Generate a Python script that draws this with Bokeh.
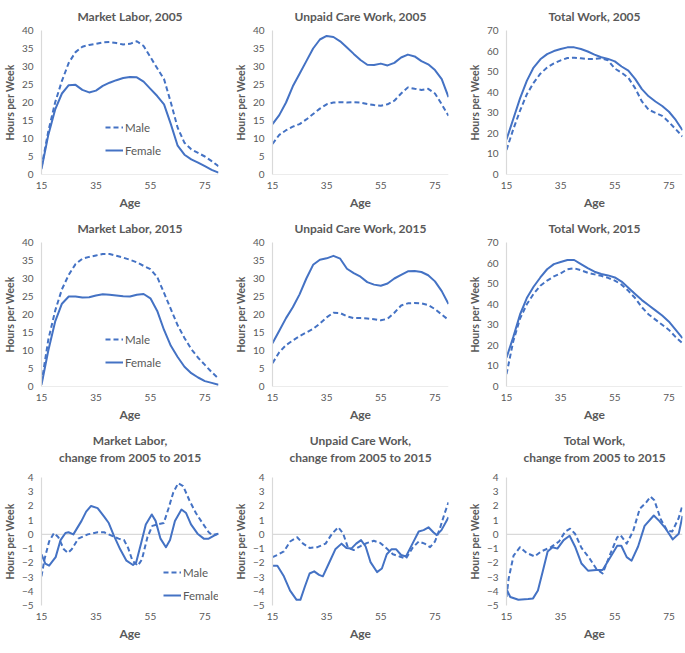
from bokeh.plotting import figure
from bokeh.layouts import column, row
from bokeh.models import Range1d, FixedTicker, Span, Legend, LegendItem, Title
from bokeh.embed import file_html
from bokeh.resources import INLINE

# ---------------- data ----------------
AGES = [15, 17.5, 20, 22.5, 25, 27.5, 30, 32.5, 35, 37.5, 40, 42.5, 45, 47.5,
        50, 52.5, 55, 57.5, 60, 62.5, 65, 67.5, 70, 72.5, 75, 77.5, 80]
X_TICKS = [15, 35, 55, 75]

ml05_male = [2, 12, 20, 26, 31, 34, 35.5, 36, 36.3, 36.7, 36.8, 36.5, 36.1, 36.3,
             37, 35.7, 32.6, 29.5, 26.5, 20, 13, 8.8, 7, 6, 5, 3.7, 2.3]
ml05_female = [1.5, 11, 18, 22.5, 24.8, 24.9, 23.5, 22.8, 23.3, 24.6, 25.5, 26.2, 26.8, 27.1,
               27.0, 25.8, 23.8, 21.8, 19.5, 14, 8, 5.5, 4.2, 3.3, 2.3, 1.3, 0.5]

uc05_male = [8.5, 11, 12.3, 13.3, 14, 15.3, 16.8, 18.3, 19.5, 20, 20.1, 20, 20.1, 20,
             19.6, 19.3, 19.1, 19.5, 20.5, 22.5, 24.2, 23.8, 23.5, 23.8, 22.5, 19.5, 16.3]
uc05_female = [14, 16.5, 20, 24.5, 28, 31.5, 35, 37.5, 38.5, 38.2, 37, 35.3, 33.5, 31.8,
               30.5, 30.4, 30.8, 30.3, 31, 32.5, 33.3, 32.8, 31.5, 30.6, 29, 26.5, 21.5]

tw05_male = [12, 22, 31, 39, 44.5, 49, 52, 54, 55.5, 56.6, 56.8, 56.5, 56.2, 56.2,
             56.5, 55.5, 51.5, 49.5, 47, 42, 35.5, 31.5, 30, 28.5, 25.5, 22, 18.5]
tw05_female = [17, 27, 37, 45.5, 52, 56, 58.5, 60, 61, 61.8, 61.8, 61, 59.8, 58.3,
               57, 56.2, 55, 52.5, 50.5, 46.5, 41.5, 38, 35.5, 33.3, 30.5, 26.5, 21.5]

ml15_male = [1, 13, 21, 27, 31, 34, 35.5, 36, 36.4, 36.8, 36.8, 36.3, 35.8, 35.2,
             34.5, 33.5, 32.6, 30.4, 26, 21.5, 17, 13.5, 10.4, 8, 6, 4, 2.2]
ml15_female = [0.5, 10, 18, 23, 25, 25, 24.7, 24.8, 25.3, 25.6, 25.5, 25.3, 25.1, 25,
               25.5, 25.7, 24.5, 21, 15.7, 11.3, 8.2, 5.5, 3.7, 2.5, 1.5, 1, 0.5]

uc15_male = [6.5, 9.5, 11.5, 12.8, 14, 15, 16, 17.5, 19.2, 20.5, 20.4, 19.5, 19, 19,
             18.9, 18.7, 18.4, 18.8, 20.5, 22.5, 23.1, 23.2, 23.1, 22.6, 21.5, 20, 18.5]
uc15_female = [12, 15.5, 19, 22, 25.6, 30, 33.8, 35.2, 35.6, 36.3, 35.5, 32.7, 31.5, 30.5,
               29, 28.3, 28, 28.6, 30, 31, 32, 32.1, 31.8, 30.9, 29.2, 26.5, 22.9]

tw15_male = [6, 22, 33, 40, 45, 49, 51.5, 53.5, 55, 57, 57.5, 56.5, 55.3, 54.5,
             53.8, 52.8, 51.5, 49.5, 46.5, 43, 38.5, 35, 32.5, 30, 27.5, 24, 21]
tw15_female = [14, 24, 35, 43, 48.5, 53, 57, 59.5, 60.5, 61.5, 61.5, 59.5, 57.5, 55.8,
               54.7, 54, 53, 51, 48, 45, 42, 39.5, 37, 34.5, 31.5, 27.5, 23.5]

# change from 2005 to 2015
mlc_male_age = [15, 16.1, 17.8, 19.6, 21.2, 23.2, 24.7, 26.1, 28.5, 32, 35.6, 38, 40.9,
                43.3, 45.3, 46.8, 48.4, 50.4, 51.9, 53.9, 55.7, 57.5, 59.9, 61.6, 63.4,
                65.2, 67, 69.3, 71.7, 74.1, 76.4, 77.6, 80]
mlc_male = [-2.95, -1.75, -0.5, 0.1, -0.2, -1.05, -1.3, -1.05, -0.3, 0, 0.15, 0.15, -0.1,
            -0.3, -0.4, -0.95, -1.85, -2.2, -1.75, -0.2, 0.6, 0.7, 0.8, 1.8, 2.95,
            3.6, 3.4, 2.4, 1.5, 0.8, 0.15, -0.05, 0.05]
mlc_female_age = [15, 16.4, 17.8, 20.2, 22, 23.8, 24.9, 26.7, 29.7, 31.4, 33.2, 35.6, 38,
                  39.7, 41.5, 43.9, 46.2, 48.6, 49.8, 51.6, 53.3, 55.5, 56.9, 58.7, 60.7,
                  62.2, 64, 66.4, 68.1, 69.9, 72.3, 74.6, 76.4, 78.2, 80]
mlc_female = [-1.4, -2.05, -2.2, -1.6, -0.4, 0.1, 0.15, 0, 0.95, 1.6, 2.0, 1.85, 1.25,
              0.8, -0.05, -1.05, -1.85, -2.15, -1.95, -0.6, 0.7, 1.4, 0.95, -0.3, -0.9,
              -0.4, 0.95, 1.75, 1.5, 0.7, 0.05, -0.3, -0.3, -0.1, 0.05]

ucc_male_age = [15, 16.8, 19.2, 21.5, 24.1, 26.3, 28.7, 31.6, 34.6, 37, 39.3, 41.1, 42.9,
                45, 47.7, 50, 52.4, 54.8, 57.2, 59.5, 61.9, 64.3, 66.7, 69, 71.2, 73.2,
                75, 76.8, 78.6, 80]
ucc_male = [-1.6, -1.45, -1.2, -0.5, -0.2, -0.65, -0.95, -0.9, -0.65, 0.05, 0.5, 0.05, -0.95,
            -1.1, -0.8, -0.6, -0.45, -0.6, -1.0, -1.4, -1.55, -1.7, -0.95, -0.5, -0.65, -0.9,
            -0.5, 0.4, 1.5, 2.25]
ucc_female_age = [15, 16.8, 19.2, 21.5, 23.9, 25.3, 26.9, 28.7, 30.4, 32.2, 33.6, 35.8, 38.2,
                  40.5, 42.3, 44.1, 45.9, 47.7, 49.4, 51.2, 53.6, 55.4, 57.2, 58.9, 60.7,
                  62.5, 64.3, 66.7, 69, 70.8, 72.6, 74.4, 75.6, 77.4, 80]
ucc_female = [-2.2, -2.2, -2.95, -3.95, -4.6, -4.6, -3.7, -2.75, -2.6, -2.85, -2.95, -2.05, -1.05,
              -0.65, -0.95, -1.0, -0.65, -0.4, -0.85, -1.95, -2.65, -2.4, -1.4, -1.05, -1.05,
              -1.45, -1.55, -0.65, 0.2, 0.3, 0.5, 0.15, -0.05, 0.3, 1.2]

twc_male_age = [15, 15.8, 17.6, 20, 22.4, 25.4, 27.8, 31.4, 34.4, 36.7, 38.5, 40.3, 42.7,
                45.7, 48.1, 50.5, 53.5, 55.9, 57.1, 59.4, 61.8, 64.2, 66.6, 68.2, 69.6,
                72, 74.4, 76.2, 78.6, 80]
twc_male = [-4.4, -3.1, -1.5, -0.9, -1.3, -1.55, -1.2, -0.9, -0.5, 0.2, 0.4, 0.05, -0.95,
            -1.7, -2.4, -2.75, -1.3, -0.2, -0.05, -0.65, 0.25, 1.8, 2.25, 2.65, 2.4,
            1.05, 0.25, 0.2, 1.15, 2.05]
twc_female_age = [15, 16.4, 19.4, 23, 24.8, 26.6, 28.4, 30.2, 32, 33.8, 36.1, 38.3, 40.3,
                  42.7, 45.1, 48.1, 50.5, 52.9, 55.9, 57.4, 59.4, 61.2, 63.6, 66, 69.4,
                  71.4, 73.8, 76.4, 78.6, 80]
twc_female = [-3.85, -4.4, -4.6, -4.55, -4.5, -3.95, -2.6, -1.2, -0.9, -1.0, -0.4, -0.1, -0.85,
              -2.05, -2.55, -2.5, -2.5, -1.75, -0.8, -0.8, -1.6, -1.85, -0.85, 0.6, 1.33,
              0.95, 0.4, -0.35, 0.05, 1.3]

TITLES = [
    ["Market Labor, 2005"], ["Unpaid Care Work, 2005"], ["Total Work, 2005"],
    ["Market Labor, 2015"], ["Unpaid Care Work, 2015"], ["Total Work, 2015"],
    ["Market Labor,", "change from 2005 to 2015"],
    ["Unpaid Care Work,", "change from 2005 to 2015"],
    ["Total Work,", "change from 2005 to 2015"],
]

# ---------------- style ----------------
BLUE = "#4472C4"
GRAY = "#595959"
LIGHT = "#D9D9D9"
FONT = "Lato"

FRAME_W = [177, 176, 176]
MIN_LEFT = [30, 39, 46]
MIN_RIGHT = [13, 12, 1]
FRAME_H = [144, 144, 128]
MIN_TOP = [0, 0, 0]
MIN_BOTTOM = [0, 44, 0]


def title(text, standoff, size="12px"):
    return Title(text=text, align="center", text_font=FONT, text_font_size=size,
                 text_font_style="bold", text_color=GRAY, standoff=standoff,
                 offset=0)


def make(ci, ri, titles, xm, ym, xf, yf, ylo, yhi, ystep, legend_loc=None):
    p = figure(frame_width=FRAME_W[ci], frame_height=FRAME_H[ri], output_backend="svg",
               toolbar_location=None, x_range=Range1d(15, 80),
               y_range=Range1d(ylo, yhi), title=None,
               min_border_left=MIN_LEFT[ci], min_border_right=MIN_RIGHT[ci],
               min_border_top=MIN_TOP[ri], min_border_bottom=MIN_BOTTOM[ri])
    if len(titles) == 1:
        p.add_layout(title(titles[0], 13), "above")
    else:
        # a thin spacer, then the two title lines stacked outward
        p.add_layout(title(" ", 10, "1px"), "above")
        p.add_layout(title(titles[1], 0), "above")
        p.add_layout(title(titles[0], 0), "above")
    p.outline_line_color = None
    p.xgrid.visible = False
    p.ygrid.visible = False
    p.background_fill_color = "white"

    p.add_layout(Span(location=0, dimension="width", line_color=LIGHT,
                      line_width=1.2, level="underlay"))

    ax = p.xaxis[0]
    ax.ticker = FixedTicker(ticks=X_TICKS)
    ax.axis_line_color = None
    ax.major_tick_line_color = None
    ax.major_tick_out = 0
    ax.major_tick_in = 0
    ax.minor_tick_line_color = None
    ax.minor_tick_out = 0
    ax.major_label_text_font = FONT
    ax.major_label_text_font_size = "10px"
    ax.major_label_text_color = GRAY
    ax.major_label_standoff = 7
    ax.axis_label = "Age"
    ax.axis_label_text_font = FONT
    ax.axis_label_text_font_size = "12px"
    ax.axis_label_text_font_style = "bold"
    ax.axis_label_text_color = GRAY
    ax.axis_label_standoff = 3

    ay = p.yaxis[0]
    ay.ticker = FixedTicker(ticks=list(range(ylo, yhi + 1, ystep)))
    ay.axis_line_color = LIGHT
    ay.axis_line_width = 1.2
    ay.major_tick_line_color = None
    ay.major_tick_out = 0
    ay.major_tick_in = 0
    ay.minor_tick_line_color = None
    ay.minor_tick_out = 0
    ay.major_label_text_font = FONT
    ay.major_label_text_font_size = "10px"
    ay.major_label_text_color = GRAY
    ay.major_label_standoff = 8
    ay.axis_label = "Hours per Week"
    ay.axis_label_text_font = FONT
    ay.axis_label_text_font_size = "10.5px"
    ay.axis_label_text_font_style = "bold"
    ay.axis_label_text_color = GRAY
    ay.axis_label_standoff = 3

    rm = p.line(xm, ym, line_color=BLUE, line_width=2, line_dash="5 3",
                line_join="round")
    rf = p.line(xf, yf, line_color=BLUE, line_width=2, line_join="round")

    if legend_loc is not None:
        leg = Legend(items=[LegendItem(label="Male", renderers=[rm]),
                            LegendItem(label="Female", renderers=[rf])],
                     location=legend_loc)
        leg.border_line_color = None
        leg.background_fill_alpha = 0
        leg.label_text_font = FONT
        leg.label_text_font_size = "11.5px"
        leg.label_text_color = GRAY
        leg.glyph_width = 18
        leg.glyph_height = 20
        leg.label_height = 20
        leg.label_standoff = 2
        leg.spacing = 3
        leg.padding = 0
        leg.margin = 0
        p.add_layout(leg)
    return p


panels = [
    make(0, 0, TITLES[0], AGES, ml05_male, AGES, ml05_female, 0, 40, 5, (64, 14)),
    make(1, 0, TITLES[1], AGES, uc05_male, AGES, uc05_female, 0, 40, 5),
    make(2, 0, TITLES[2], AGES, tw05_male, AGES, tw05_female, 0, 70, 10),
    make(0, 1, TITLES[3], AGES, ml15_male, AGES, ml15_female, 0, 40, 5, (64, 14)),
    make(1, 1, TITLES[4], AGES, uc15_male, AGES, uc15_female, 0, 40, 5),
    make(2, 1, TITLES[5], AGES, tw15_male, AGES, tw15_female, 0, 70, 10),
    make(0, 2, TITLES[6], mlc_male_age, mlc_male, mlc_female_age, mlc_female, -5, 4, 1, (122, 0)),
    make(1, 2, TITLES[7], ucc_male_age, ucc_male, ucc_female_age, ucc_female, -5, 4, 1),
    make(2, 2, TITLES[8], twc_male_age, twc_male, twc_female_age, twc_female, -5, 4, 1),
]

layout = column(row(*panels[0:3]), row(*panels[3:6]), row(*panels[6:9]))

open("out.html", "w").write(file_html(layout, INLINE))
